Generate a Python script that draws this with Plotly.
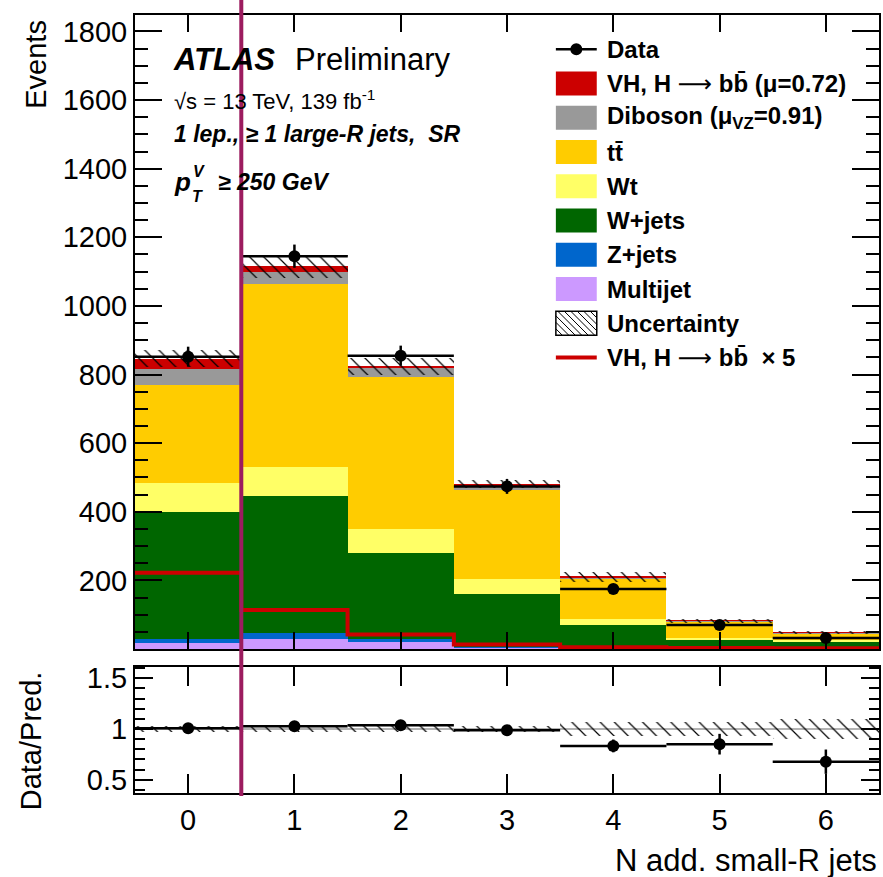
import numpy as np
import plotly.graph_objects as go

# ---------------- data ----------------
bins = [0, 1, 2, 3, 4, 5, 6]
multijet = [17, 29, 20, 3, 1, 0.5, 0.3]
zjets = [12, 18, 8, 2, 1, 0.5, 0.3]
wjets = [369, 398, 252, 155, 68, 25, 19.4]
wt = [87, 86, 70, 44, 17, 6, 6]
ttbar = [284, 532, 442, 260, 118, 48, 20]
diboson = [46, 37, 28, 14, 4, 2, 1]
vh = [31, 15, 4, 2, 1, 0.3, 0.2]
data = [852, 1145, 855, 474, 175, 70, 32]
vh_x5 = [222, 114, 42, 13, 5, 3, 2]
rel_unc = [0.03, 0.03, 0.03, 0.025, 0.065, 0.07, 0.10]

names = ["Multijet", "Z+jets", "W+jets", "Wt", "tt\u0304", "Diboson", "VH"]
comps = [multijet, zjets, wjets, wt, ttbar, diboson, vh]
colors = ["#cc99ff", "#0066cc", "#006600", "#ffff66", "#ffcc00", "#999999", "#cc0000"]

# ---------------- geometry helpers (layout only) ----------------
W, H = 883, 877
L, R, T, B = 135, 881, 15, 793
MAIN_BOT = 649
RATIO_TOP = 667


def px(xp):
    return (xp - L) / (R - L)


def py(yp):
    return (B - yp) / (B - T)


fig = go.Figure()

hatch = dict(shape="\\", fgcolor="black", fgopacity=1, bgcolor="rgba(0,0,0,0)", size=10,
             solidity=0.12, fillmode="overlay")

# stacked histogram
x = np.array(bins, dtype=float)
base = np.zeros(len(bins))
for name, vals, col in zip(names, comps, colors):
    v = np.array(vals, dtype=float)
    fig.add_trace(go.Bar(x=x, y=v, base=base, width=1.0, name=name,
                         marker=dict(color=col, line=dict(width=0)),
                         opacity=1, xaxis="x", yaxis="y", showlegend=False))
    base = base + v
total = base

# uncertainty hatch
unc = total * np.array(rel_unc)
fig.add_trace(go.Bar(x=x, y=2 * unc, base=total - unc, width=1.0,
                     marker=dict(color="rgba(0,0,0,0)", line=dict(width=0), pattern=hatch),
                     xaxis="x", yaxis="y", showlegend=False))

# signal x5 step line
edges = np.arange(-0.5, 7.0, 1.0)
sig = np.array(vh_x5, dtype=float)
fig.add_trace(go.Scatter(x=edges, y=np.append(sig, sig[-1]), mode="lines", line_shape="hv",
                         line=dict(color="#cc0000", width=4), xaxis="x", yaxis="y", showlegend=False))

# data points
d = np.array(data, dtype=float)
fig.add_trace(go.Scatter(x=x, y=d, mode="markers",
                         marker=dict(color="black", size=12),
                         error_y=dict(type="data", array=np.sqrt(d), width=0, thickness=2.5, color="black"),
                         error_x=dict(type="constant", value=0.5, width=0, thickness=2.5, color="black"),
                         xaxis="x", yaxis="y", showlegend=False))

# ratio panel
fig.add_trace(go.Bar(x=x, y=2 * np.array(rel_unc), base=1 - np.array(rel_unc), width=1.0,
                     marker=dict(color="rgba(0,0,0,0)", line=dict(width=0), pattern=hatch),
                     xaxis="x2", yaxis="y2", showlegend=False))
ratio = d / total
fig.add_trace(go.Scatter(x=x, y=ratio, mode="markers",
                         marker=dict(color="black", size=12),
                         error_y=dict(type="data", array=np.sqrt(d) / total, width=0, thickness=2.5, color="black"),
                         error_x=dict(type="constant", value=0.5, width=0, thickness=2.5, color="black"),
                         xaxis="x2", yaxis="y2", showlegend=False))

FONT = "Liberation Sans, Arial, Helvetica, sans-serif"
tickfont = dict(family=FONT, size=29, color="black")

main_dom0 = py(MAIN_BOT)
ratio_dom1 = py(RATIO_TOP)

fig.update_layout(
    width=W, height=H, autosize=False,
    margin=dict(l=L, r=W - R, t=T, b=H - B, pad=0),
    paper_bgcolor="white", plot_bgcolor="white",
    barmode="overlay", bargap=0,
    font=dict(family=FONT, color="black"),
    xaxis=dict(domain=[0, 1], anchor="y", range=[-0.5, 6.5], tickvals=bins, showticklabels=False,
               ticks="inside", ticklen=17, tickwidth=2, tickcolor="black",
               showline=True, linewidth=2, linecolor="black", mirror="ticks",
               showgrid=False, zeroline=False),
    yaxis=dict(domain=[main_dom0, 1], anchor="x", range=[0, 1848],
               tickvals=list(range(200, 1801, 200)), ticks="inside", ticklen=27, tickwidth=2,
               tickcolor="black", tickfont=tickfont,
               minor=dict(tickvals=list(range(50, 1848, 50)), ticks="inside", ticklen=13,
                          tickwidth=2, tickcolor="black"),
               showline=True, linewidth=2, linecolor="black", mirror="ticks",
               showgrid=False, zeroline=False),
    xaxis2=dict(domain=[0, 1], anchor="y2", range=[-0.5, 6.5], tickvals=bins,
                ticktext=[str(b) for b in bins], tickfont=tickfont,
                ticks="inside", ticklen=19, tickwidth=2, tickcolor="black",
                showline=True, linewidth=2, linecolor="black", mirror="ticks",
                showgrid=False, zeroline=False),
    yaxis2=dict(domain=[0, ratio_dom1], anchor="x2", range=[0.37, 1.61],
                tickvals=[0.5, 1, 1.5], ticktext=["0.5", "1", "1.5"], tickfont=tickfont,
                ticks="inside", ticklen=18, tickwidth=2, tickcolor="black",
                minor=dict(tickvals=[round(v, 1) for v in np.arange(0.4, 1.61, 0.1)], ticks="inside",
                           ticklen=10, tickwidth=2, tickcolor="black"),
                showline=True, linewidth=2, linecolor="black", mirror="ticks",
                showgrid=False, zeroline=False),
)

shapes = []
ann = []

# grey line at 1 in ratio
shapes.append(dict(type="line", xref="x2", yref="y2", x0=-0.5, x1=6.5, y0=1, y1=1,
                   line=dict(color="#999999", width=1.5), layer="below"))


def text(xp, yp, s, size, anchor="left", **kw):
    ann.append(dict(xref="paper", yref="paper", x=px(xp), y=py(yp), text=s, showarrow=False,
                    xanchor=anchor, yanchor="middle", font=dict(family=FONT, size=size, color="black"), **kw))


# ATLAS label
text(171, 59, "<b><i>ATLAS</i></b>", 31)
text(293, 59, "Preliminary", 31)
text(172, 100, "\u221As = 13 TeV, 139 fb<sup>-1</sup>", 22)
text(172, 134, "<b><i>1 lep., \u2265 1 large-R jets,  SR</i></b>", 23)
text(172, 182, "<b><i>p</i></b>", 26)
text(191, 171, "<b><i>V</i></b>", 16)
text(190, 197, "<b><i>T</i></b>", 16)
text(216, 182, "<b><i>\u2265 250 GeV</i></b>", 23)

# legend
ARROW = "<span style='font-family:DejaVu Sans;font-weight:normal'>\u27f6</span>"
legend_entries = [
    ("data", None, "Data"),
    ("box", "#cc0000", "VH, H " + ARROW + " bb\u0304 (\u03bc=0.72)"),
    ("box", "#999999", "Diboson (\u03bc<sub>VZ</sub>=0.91)"),
    ("box", "#ffcc00", "tt\u0304"),
    ("box", "#ffff66", "Wt"),
    ("box", "#006600", "W+jets"),
    ("box", "#0066cc", "Z+jets"),
    ("box", "#cc99ff", "Multijet"),
    ("hatch", None, "Uncertainty"),
    ("line", "#cc0000", "VH, H " + ARROW + " bb\u0304  \u00d7 5"),
]
lx0, lx1 = 557, 598
for i, (kind, col, lab) in enumerate(legend_entries):
    yc = 49.3 + i * 34.25
    if kind == "box":
        shapes.append(dict(type="rect", xref="paper", yref="paper", x0=px(lx0), x1=px(lx1),
                           y0=py(yc - 12), y1=py(yc + 12), fillcolor=col, line=dict(width=0)))
    elif kind == "data":
        shapes.append(dict(type="line", xref="paper", yref="paper", x0=px(lx0), x1=px(lx1),
                           y0=py(yc), y1=py(yc), line=dict(color="black", width=2.5)))
        shapes.append(dict(type="circle", xref="paper", yref="paper", x0=px(577.5 - 6), x1=px(577.5 + 6),
                           y0=py(yc - 6), y1=py(yc + 6), fillcolor="black", line=dict(width=0)))
    elif kind == "line":
        shapes.append(dict(type="line", xref="paper", yref="paper", x0=px(lx0), x1=px(lx1),
                           y0=py(yc), y1=py(yc), line=dict(color=col, width=4)))
    elif kind == "hatch":
        top, bot = yc - 12, yc + 12
        shapes.append(dict(type="rect", xref="paper", yref="paper", x0=px(lx0), x1=px(lx1),
                           y0=py(bot), y1=py(top), fillcolor="white", line=dict(color="black", width=1.5)))
        hgt = bot - top
        for s in np.arange(lx0 - hgt, lx1, 6.5):
            xa, ya = s, top
            xb, yb = s + hgt, bot
            if xa < lx0:
                ya = top + (lx0 - xa)
                xa = lx0
            if xb > lx1:
                yb = bot - (xb - lx1)
                xb = lx1
            if xb > xa:
                shapes.append(dict(type="line", xref="paper", yref="paper", x0=px(xa), x1=px(xb),
                                   y0=py(ya), y1=py(yb), line=dict(color="black", width=1)))
    text(606, yc, "<b>" + lab + "</b>", 24)

# axis titles
ann.append(dict(xref="paper", yref="paper", x=px(36), y=py(18), text="Events", textangle=-90,
                showarrow=False, xanchor="center", yanchor="top", font=dict(family=FONT, size=29, color="black")))
ann.append(dict(xref="paper", yref="paper", x=px(31), y=py(741), text="Data/Pred.", textangle=-90,
                showarrow=False, xanchor="center", yanchor="middle", font=dict(family=FONT, size=29, color="black")))
ann.append(dict(xref="paper", yref="paper", x=px(881), y=py(860), text="N add. small-R jets",
                showarrow=False, xanchor="right", yanchor="middle", font=dict(family=FONT, size=31, color="black")))

# magenta vertical marker line
shapes.append(dict(type="line", xref="x", yref="paper", x0=0.5, x1=0.5, y0=py(796), y1=py(0),
                   line=dict(color="#9c1c5f", width=4)))

fig.update_layout(shapes=shapes, annotations=ann)
fig.write_html("out.html")
